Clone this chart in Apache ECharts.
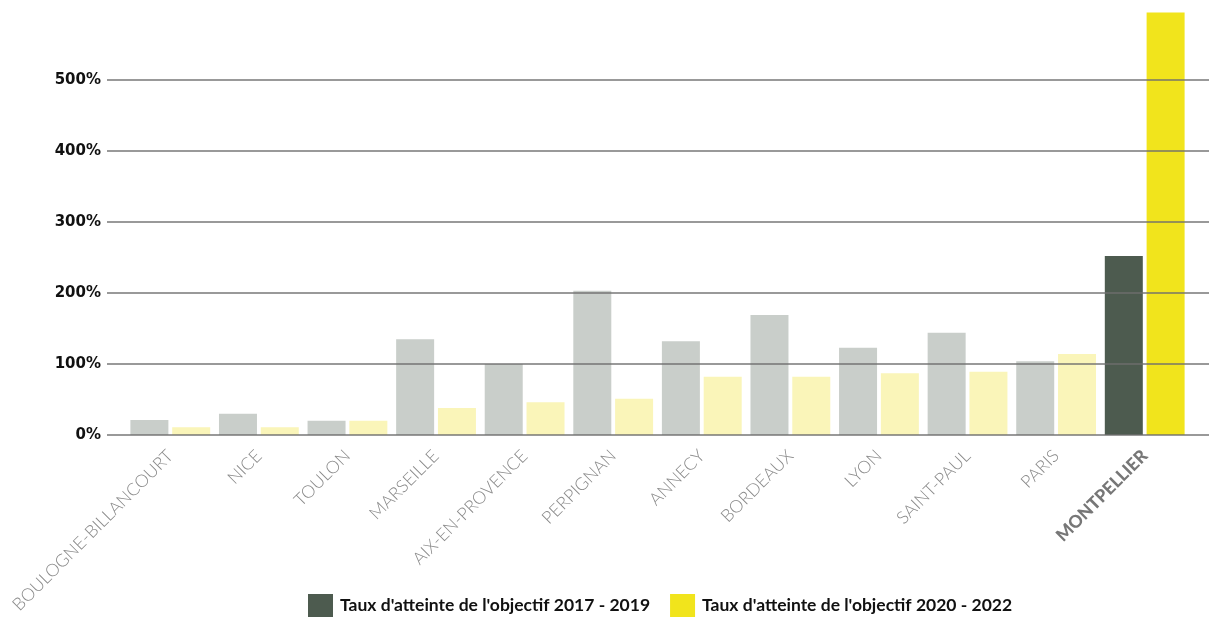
<!DOCTYPE html>
<html>
<head>
<meta charset="utf-8">
<title>Taux d'atteinte de l'objectif</title>
<script src="https://cdn.jsdelivr.net/npm/echarts@6/dist/echarts.min.js"></script>
<style>
  html, body { margin: 0; padding: 0; background: #ffffff; }
  #chart { width: 1220px; height: 620px; }
</style>
</head>
<body>
<div id="chart"></div>
<script>
// Cities, in display order
const categories = ['BOULOGNE-BILLANCOURT', 'NICE', 'TOULON', 'MARSEILLE', 'AIX-EN-PROVENCE',
  'PERPIGNAN', 'ANNECY', 'BORDEAUX', 'LYON', 'SAINT-PAUL', 'PARIS', 'MONTPELLIER'];
// Goal achievement rate, in percent
const rate2017_2019 = [21, 30, 20, 135, 100, 203, 132, 169, 123, 144, 104, 252];
const rate2020_2022 = [11, 11, 20, 38, 46, 51, 82, 82, 87, 89, 114, 595];
const seriesNames = ["Taux d'atteinte de l'objectif 2017 - 2019", "Taux d'atteinte de l'objectif 2020 - 2022"];
const yTicks = [0, 100, 200, 300, 400, 500];
const highlighted = 'MONTPELLIER';

const darkGreen = '#4d5b4f', brightYellow = '#f1e41c';
const mutedGrey = '#c9ceca', paleYellow = '#faf5b9';

function buildData(values, muted) {
  return values.map((v, i) => categories[i] === highlighted
    ? v
    : { value: v, itemStyle: { color: muted } });
}

const chart = echarts.init(document.getElementById('chart'), null, { renderer: 'canvas' });

chart.setOption({
  backgroundColor: '#ffffff',
  animation: false,
  legend: {
    left: 308,
    top: 594,
    padding: 0,
    icon: 'rect',
    itemWidth: 25,
    itemHeight: 23,
    itemGap: 20,
    textStyle: { fontFamily: 'Lato', fontWeight: 'bold', fontSize: 17.5, color: '#111', padding: [0, 0, 0, 2] },
    data: seriesNames
  },
  grid: [
    // bar area
    { left: 126, right: 31, top: 9, bottom: 185 },
    // reference lines and percent labels, slightly wider than the bars
    { left: 107, right: 11, top: 80, bottom: 185 }
  ],
  xAxis: [
    {
      type: 'category',
      gridIndex: 0,
      data: categories,
      axisLine: { show: false },
      axisTick: { show: false },
      axisLabel: {
        interval: 0,
        rotate: 45,
        margin: 18,
        fontFamily: 'Lato',
        fontWeight: 300,
        fontSize: 17.5,
        color: '#8a8a8a',
        formatter: v => v === highlighted ? '{b|' + v + '}' : v,
        rich: {
          b: { fontFamily: 'Lato', fontWeight: 900, fontSize: 17.5, color: '#777777' }
        }
      }
    },
    { type: 'value', gridIndex: 1, min: 0, max: 1, show: false }
  ],
  yAxis: [
    { type: 'value', gridIndex: 0, min: 0, max: 600, show: false },
    {
      type: 'value',
      gridIndex: 1,
      min: yTicks[0],
      max: yTicks[yTicks.length - 1],
      interval: 100,
      z: 10,
      axisLine: { show: false },
      axisTick: { show: false },
      axisLabel: {
        margin: 6,
        fontFamily: 'DejaVu Sans',
        fontWeight: 'bold',
        fontSize: 15,
        color: '#111',
        formatter: '{value}%'
      },
      splitLine: { show: true, lineStyle: { color: 'rgba(110,110,110,0.7)', width: 2 } }
    }
  ],
  series: [
    {
      name: seriesNames[0],
      type: 'bar',
      xAxisIndex: 0,
      yAxisIndex: 0,
      barWidth: 38,
      barGap: '10%',
      itemStyle: { color: darkGreen },
      data: buildData(rate2017_2019, mutedGrey)
    },
    {
      name: seriesNames[1],
      type: 'bar',
      xAxisIndex: 0,
      yAxisIndex: 0,
      barWidth: 38,
      barGap: '10%',
      itemStyle: { color: brightYellow },
      data: buildData(rate2020_2022, paleYellow)
    }
  ]
});
</script>
</body>
</html>
